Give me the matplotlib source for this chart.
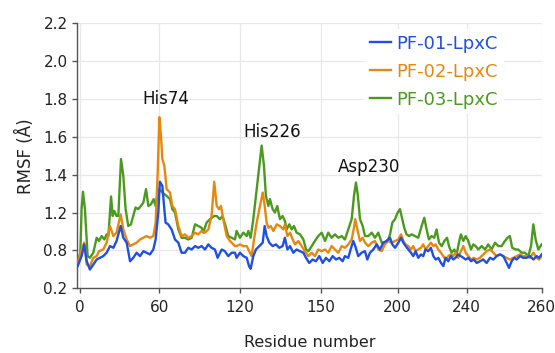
import matplotlib
matplotlib.use("Agg")
import matplotlib.pyplot as plt

plt.rcParams['font.family'] = ['DejaVu Sans']

# ---- data (axis positions) ----
series_names = ["PF-01-LpxC", "PF-02-LpxC", "PF-03-LpxC"]
series_colors = ["#1f4fe3", "#e8870f", "#4b9a1f"]

x_blue = [-1.3, 0.9, 2.4, 3.8, 5.6, 7.5, 9.4, 11.3, 13.1, 15.0, 16.9, 18.8, 20.6, 22.9, 24.4, 26.3, 28.2, 30.0,
          31.9, 33.8, 35.7, 37.5, 39.4, 41.3, 42.6, 44.1, 45.0, 46.4, 47.5, 48.2, 49.7, 51.6, 53.5, 55.4, 57.2,
          59.1, 61.0, 62.9, 64.8, 66.6, 68.5, 70.4, 72.3, 74.1, 76.0, 77.5, 79.8, 81.6, 83.5, 85.4, 87.3,
          88.2, 90.1, 92.0, 93.9, 95.2, 96.1, 97.6, 99.1, 101.0, 102.9, 104.0, 105.1, 106.6, 108.5, 110.4, 112.2,
          114.1, 115.4, 116.8, 118.3, 120.1, 122.0, 123.9, 125.8, 127.3, 129.1, 131.0, 132.9, 134.8, 136.7, 138.5,
          140.4, 142.3, 144.2, 146.0, 147.9, 149.2, 151.1, 152.4, 153.9, 155.0, 156.7, 158.6, 160.5, 161.8, 163.3,
          165.2, 167.1, 168.9, 170.8, 172.7, 174.6, 175.9, 177.4, 179.3, 180.8, 182.1, 183.4, 184.9, 186.4, 187.7,
          189.0, 190.5, 192.0, 193.3, 194.6, 196.1, 197.6, 199.0, 200.3, 201.8, 203.3, 204.6, 205.9, 207.4, 208.9,
          210.2, 211.5, 213.0, 214.5, 215.9, 217.2, 218.7, 220.2, 221.7, 223.4, 225.2, 227.1, 229.0, 230.9, 232.8,
          234.6, 236.5, 238.4, 240.3, 241.6, 243.1, 244.6, 245.9, 247.8, 249.6, 251.5, 253.4, 255.3, 257.2, 258.5,
          260.0]
y_blue = [0.917, 0.970, 1.032, 0.943, 0.899, 0.926, 0.952, 0.961, 0.970, 0.988, 1.023, 1.014, 1.050, 1.129, 1.067,
          1.041, 0.943, 0.961, 0.988, 0.970, 0.996, 0.988, 0.979, 1.005, 1.058, 1.200, 1.363, 1.341, 1.218, 1.147,
          1.138, 1.111, 1.058, 1.041, 0.988, 0.988, 1.014, 1.005, 1.023, 1.014, 1.023, 1.005, 1.032, 1.014, 1.005,
          0.961, 1.005, 0.996, 0.970, 0.988, 0.988,
          0.961, 0.988, 0.970, 0.961, 0.917, 0.903, 0.970, 1.005, 1.023, 1.041, 1.129, 1.076, 1.041, 1.023, 1.032,
          1.014, 1.023, 1.067, 1.005, 1.023, 0.988, 1.005, 0.996, 0.988, 0.961, 0.934, 0.952, 0.943, 0.970, 0.934,
          0.961, 0.943, 0.970, 0.952, 0.961, 0.943, 0.970, 0.961, 1.005, 1.050, 1.023, 0.970, 0.988, 0.996, 0.952,
          0.988, 1.005, 1.032, 1.005, 1.041, 1.050, 1.067, 1.032, 1.014, 1.041, 1.067, 1.041, 1.023, 1.005, 0.988,
          0.970, 0.996, 0.961, 0.979, 0.970, 1.005, 0.996, 1.014, 0.970, 0.952, 0.961, 0.934, 0.917, 0.961, 0.943,
          0.970, 0.952, 0.961, 0.979, 0.970, 0.961, 0.952, 0.961, 0.943, 0.952, 0.934, 0.943, 0.952, 0.934, 0.961,
          0.952, 0.970, 0.979, 0.970, 0.934, 0.908, 0.943, 0.961, 0.952, 0.970, 0.961, 0.961, 0.970, 0.952, 0.970,
          0.961, 0.979]

x_orange = [-1.3, 0.9, 2.4, 3.8, 5.6, 7.5, 9.4, 10.7, 13.1, 15.0, 16.9, 18.8, 20.6, 22.9, 24.4, 26.3, 28.2, 30.0,
            31.9, 33.8, 35.7, 37.5, 39.4, 41.3, 42.6, 43.7, 44.7, 45.6, 46.4, 47.5, 48.8, 50.7, 52.0, 53.5, 55.4,
            57.2, 59.1, 61.0, 62.9, 64.8, 66.6, 68.5, 70.4, 72.3, 74.1, 75.6, 77.0, 78.3, 79.4, 80.7, 82.6, 84.5,
            87.3, 88.2, 90.1, 92.0, 93.9, 95.7, 96.7, 98.0, 99.5, 101.4, 102.9, 103.8, 105.1, 106.1, 107.4, 108.9,
            110.8, 112.6, 114.5, 115.4, 116.8, 118.3, 119.8, 121.1, 123.0, 124.8, 126.7, 128.6, 130.5, 132.3, 134.2,
            136.1, 138.0, 139.8, 141.7, 143.6, 145.5, 147.4, 149.2, 151.1, 153.0, 154.3, 155.0, 156.2, 157.7, 159.2,
            160.5, 162.4, 164.3, 166.1, 168.0, 169.9, 171.7, 173.6, 175.5, 177.4, 179.3, 180.8, 182.1, 183.4, 184.9,
            186.4, 187.7, 189.0, 190.5, 192.0, 193.3, 194.6, 196.1, 197.6, 199.0, 200.3, 201.8, 203.3, 204.6, 205.9,
            207.4, 208.9, 210.2, 211.5, 213.0, 214.5, 215.9, 217.2, 218.7, 220.2, 221.7, 223.4, 225.2, 227.1, 229.0,
            230.9, 232.8, 234.6, 236.5, 238.4, 240.3, 242.1, 244.0, 245.9, 247.8, 249.6, 251.5, 253.4, 255.3, 257.2,
            258.5, 260.0]
y_orange = [0.926, 1.005, 1.041, 0.926, 0.917, 0.961, 0.970, 0.996, 1.005, 1.041, 1.129, 1.076, 1.094, 1.191,
            1.111, 1.058, 1.023, 1.032, 1.041, 1.058, 1.067, 1.076, 1.067, 1.076, 1.147, 1.395, 1.704, 1.607, 1.483,
            1.448, 1.324, 1.306, 1.235, 1.218, 1.129, 1.076, 1.085, 1.067, 1.076, 1.094, 1.085, 1.103, 1.094, 1.111,
            1.182, 1.363, 1.235, 1.218, 1.235, 1.165, 1.076, 1.050, 1.023,
            1.023, 1.032, 1.023, 1.023, 0.988, 0.970, 1.058, 1.147, 1.235, 1.306, 1.253, 1.147, 1.120, 1.129, 1.103,
            1.138, 1.129, 1.111, 1.138, 1.076, 1.094, 1.058, 1.032, 1.050, 1.023, 0.996, 0.970, 0.988, 0.970, 1.005,
            0.996, 1.005, 0.988, 1.023, 1.005, 0.988, 1.023, 1.014, 1.032, 1.058, 1.120, 1.165, 1.111, 1.050, 1.067,
            1.041, 1.023, 1.041, 1.050, 1.005, 0.996, 1.032, 1.050, 1.041, 1.050, 1.058, 1.085, 1.050, 1.032, 1.023,
            1.005, 1.023, 0.996, 1.005, 1.014, 1.032, 1.005, 1.023, 1.041, 1.023, 1.032, 1.005, 0.988, 0.970, 0.952,
            0.970, 0.979, 0.970, 0.988, 0.961, 0.996, 1.023, 0.988, 0.970, 0.952, 0.961, 0.952, 0.961, 0.979, 0.996,
            1.005, 0.988, 0.970, 0.979, 0.970, 0.961, 0.952, 0.961, 0.970, 0.979, 0.970, 0.970, 0.961, 0.988, 0.961,
            0.952, 0.970]

x_green = [-1.3, 0.2, 0.9, 1.7, 2.8, 4.3, 5.6, 7.5, 9.4, 10.7, 12.2, 13.7, 15.0, 16.0, 17.5, 18.4, 19.3, 20.6,
           21.6, 23.1, 24.4, 25.7, 27.2, 28.7, 30.0, 31.3, 32.8, 34.3, 35.7, 37.2, 38.5, 40.0, 41.5, 42.6, 43.7,
           44.7, 46.4, 48.8, 50.7, 52.0, 53.5, 55.4, 57.2, 59.1, 61.0, 62.9, 64.8, 66.6, 68.5, 69.4, 71.3, 73.2,
           75.6, 77.0, 78.8, 80.3, 82.0, 83.5, 85.4, 87.3,
           88.2, 90.1, 92.0, 93.9, 94.8, 96.1, 97.6, 99.1, 100.4, 102.3, 103.6, 104.7, 106.1, 107.0, 108.5, 109.8,
           111.1, 112.6, 114.1, 115.4, 116.4, 117.9, 119.2, 120.5, 122.0, 123.9, 125.8, 127.3, 128.6, 130.5, 132.3,
           134.2, 136.1, 138.0, 139.8, 141.7, 143.6, 145.5, 147.4, 149.2, 151.1, 153.0, 154.3, 155.4, 156.4, 157.7,
           159.2, 160.5, 162.4, 164.3, 166.1, 168.0, 169.9, 171.7, 173.6, 174.6, 175.9, 177.4, 178.9, 180.2, 181.5,
           182.6, 183.9, 185.3, 186.8, 188.6, 190.5, 192.4, 193.9, 195.2, 196.5, 198.0, 199.5, 200.8, 202.2, 203.7,
           205.2, 206.7, 207.8, 209.3, 210.8, 212.1, 213.4, 214.5, 215.9, 217.2, 218.7, 220.2, 221.5, 222.8, 224.3,
           226.2, 228.1, 229.9, 231.8, 233.7, 235.6, 237.4, 239.3, 240.8, 242.1, 243.4, 245.3, 246.8, 248.7, 250.6,
           252.5, 254.0, 255.3, 256.6, 258.1, 260.0]
y_green = [0.943, 0.988, 1.218, 1.310, 1.218, 0.970, 0.961, 0.988, 1.067, 1.050, 1.076, 1.058, 1.085, 1.076, 1.285,
           1.182, 1.209, 1.182, 1.182, 1.483, 1.395, 1.218, 1.129, 1.138, 1.182, 1.227, 1.218, 1.235, 1.253, 1.324,
           1.235, 1.244, 1.271, 1.235, 1.306, 1.324, 1.306, 1.288, 1.271, 1.218, 1.200, 1.111, 1.067, 1.067, 1.058,
           1.067, 1.138, 1.129, 1.120, 1.094, 1.147, 1.165, 1.182, 1.182, 1.165, 1.182, 1.129, 1.076, 1.067, 1.058,
           1.103, 1.067, 1.094, 1.076, 1.103, 1.067, 1.165, 1.288, 1.395, 1.554, 1.448, 1.288, 1.235, 1.271, 1.218,
           1.200, 1.235, 1.165, 1.182, 1.156, 1.111, 1.138, 1.111, 1.129, 1.094, 1.085, 1.058, 1.005, 0.996, 1.023,
           1.050, 1.076, 1.094, 1.050, 1.094, 1.067, 1.085, 1.067, 1.076, 1.058, 1.111, 1.165, 1.288, 1.359, 1.297,
           1.165, 1.129, 1.076, 1.076, 1.094, 1.067, 1.094, 1.041, 1.041, 1.058, 1.085, 1.147, 1.165, 1.200, 1.218,
           1.165, 1.120, 1.085, 1.076, 1.085, 1.076, 1.067, 1.129, 1.173, 1.111, 1.058, 1.076, 1.067, 1.111, 1.041,
           1.023, 1.050, 1.067, 1.023, 0.988, 1.005, 0.979, 1.041, 1.085, 1.050, 1.076, 1.050, 1.005, 1.032, 1.023,
           1.005, 1.023, 1.005, 1.032, 1.005, 1.041, 1.023, 1.023, 1.050, 1.067, 1.076, 1.014, 1.005, 1.005, 0.988,
           0.988, 0.970, 1.023, 1.138, 1.058, 1.005, 1.032]

x_tick_pos = [0, 44.65, 90.1, 135.7, 178.9, 217.7, 260]
x_tick_labels = ["0", "60", "120", "150", "200", "240", "260"]
y_tick_pos = [0.8, 1.0, 1.2, 1.4, 1.6, 1.8, 2.0, 2.2]
y_tick_labels = ["0.2", "0.8", "1.2", "1.4", "1.6", "1.8", "2.0", "2.2"]

annot_text = ["His74", "His226", "Asp230"]
annot_x = [48.4, 108.1, 162.7]
annot_y = [1.773, 1.598, 1.416]

# ---- figure ----
fig = plt.figure(figsize=(5.55, 3.53), dpi=100)
ax = fig.add_axes([0.1393, 0.1833, 0.976 - 0.1393, 0.934 - 0.1833])

xs = [x_blue, x_orange, x_green]
ys = [y_blue, y_orange, y_green]
lines = {}
for i in [2, 1, 0]:
    ln, = ax.plot(xs[i], ys[i], color=series_colors[i], lw=1.7, label=series_names[i],
                  solid_joinstyle='round', zorder=3 + (2 - i))
    lines[i] = ln

ax.set_xlim(-1.5, 260)
ax.set_ylim(0.8, 2.2)
ax.set_xticks(x_tick_pos)
ax.set_xticklabels(x_tick_labels)
ax.set_yticks(y_tick_pos)
ax.set_yticklabels(y_tick_labels)

ax.grid(True, color="#e8e8e8", lw=0.9, zorder=0)
for s in ["top", "right"]:
    ax.spines[s].set_visible(False)
for s in ["left", "bottom"]:
    ax.spines[s].set_color("#555555")
    ax.spines[s].set_linewidth(1.0)
ax.tick_params(axis='both', colors="#555555", length=3.5, width=1.0, labelsize=11, labelcolor="#222222")
ax.tick_params(axis='x', pad=5)
ax.tick_params(axis='y', pad=3.5)

ax.set_xlabel("Residue number", fontsize=11.5, color="#222222", labelpad=14)
ax.set_ylabel("RMSF (Å)", fontsize=12, color="#222222", labelpad=6)

for t, xx, yy in zip(annot_text, annot_x, annot_y):
    ax.text(xx, yy, t, ha='center', va='baseline', fontsize=12, color="#111111", zorder=6)

handles = [lines[0], lines[1], lines[2]]
leg = ax.legend(handles, series_names, loc='upper left', bbox_to_anchor=(0.619, 0.978),
                fontsize=13, frameon=True, fancybox=False, handlelength=1.17, handletextpad=0.3,
                labelspacing=0.56, borderpad=0.3, borderaxespad=0.0, labelcolor='linecolor')
leg.get_frame().set_facecolor('white')
leg.get_frame().set_edgecolor('none')
leg.get_frame().set_alpha(1.0)
leg.set_zorder(10)

fig.savefig("out.png", dpi=100, facecolor='white')
